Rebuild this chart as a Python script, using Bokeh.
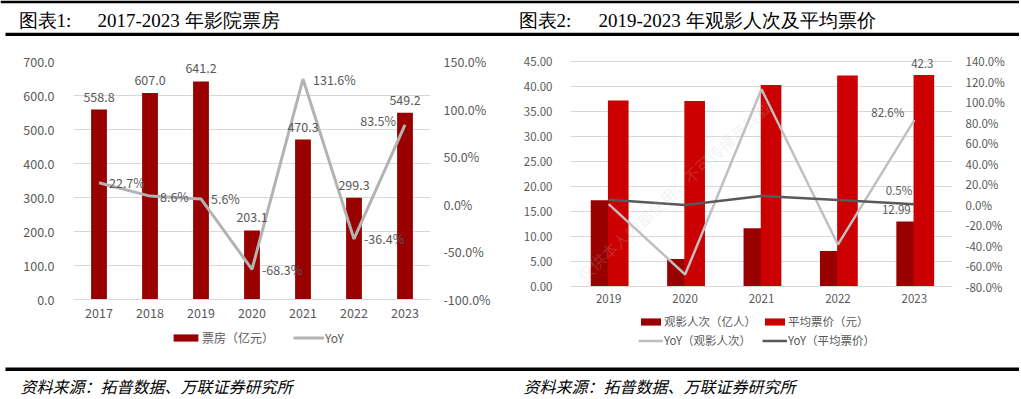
from bokeh.plotting import figure
from bokeh.models import (Range1d, LinearAxis, FactorRange, ColumnDataSource, LabelSet, Label,
                          Legend, LegendItem, PrintfTickFormatter, SingleIntervalTicker)
from bokeh.layouts import column, row
from bokeh.transform import dodge
from bokeh.core.properties import value
from bokeh.embed import file_html
from bokeh.resources import INLINE

# ---------------- data ----------------
years1 = ["2017", "2018", "2019", "2020", "2021", "2022", "2023"]
box_office = [558.8, 607.0, 641.2, 203.1, 470.3, 299.3, 549.2]      # 票房（亿元）
box_yoy = [22.7, 8.6, 5.6, -68.3, 131.6, -36.4, 83.5]                # YoY %

years2 = ["2019", "2020", "2021", "2022", "2023"]
admissions = [17.27, 5.48, 11.67, 7.12, 12.99]                       # 观影人次（亿人）
avg_price = [37.2, 37.1, 40.3, 42.2, 42.3]                           # 平均票价（元）
adm_yoy = [0.6, -68.3, 112.9, -39.0, 82.6]                           # YoY（观影人次）%
price_yoy = [4.8, -0.3, 8.6, 4.6, 0.5]                               # YoY（平均票价）%

title1_a, title1_b = "图表1:", "2017-2023 年影院票房"
title2_a, title2_b = "图表2:", "2019-2023 年观影人次及平均票价"
source_txt = "资料来源：拓普数据、万联证券研究所"
watermark = "仅供本人内部使用，不可传播与转载"

FONT = "Noto Sans CJK SC"
TXT = "#595959"
GRID = "#D9D9D9"
DARKRED = "#990000"
RED = "#CC0000"
LGRAY = "#B3B3B3"
LGRAY2 = "#BFBFBF"
DGRAY = "#595959"
W = 1019
WM_ANGLE = 0.7435


def no_align(p):
    if "frame_align" in p.properties():
        p.frame_align = False


def style_axis(ax, size, standoff, line=None):
    ax.axis_line_color = line
    ax.major_tick_line_color = None
    ax.minor_tick_line_color = None
    ax.major_tick_out = 0
    ax.major_tick_in = 0
    ax.major_label_text_font = FONT
    ax.major_label_text_font_size = size
    ax.major_label_text_color = TXT
    ax.major_label_standoff = standoff


def base_fig(width, height, xr, yr, ml, mr, mt, mb):
    p = figure(width=width, height=height, x_range=xr, y_range=yr,
               min_border_left=ml, min_border_right=mr, min_border_top=mt, min_border_bottom=mb,
               toolbar_location=None, output_backend="svg")
    p.outline_line_color = None
    p.xgrid.grid_line_color = None
    p.ygrid.grid_line_color = GRID
    p.ygrid.grid_line_width = 1
    no_align(p)
    return p


def strip(width, height):
    p = figure(width=width, height=height, x_range=Range1d(0, width), y_range=Range1d(height, 0),
               min_border=0, toolbar_location=None, output_backend="svg",
               x_axis_location=None, y_axis_location=None)
    p.grid.visible = False
    p.outline_line_color = None
    no_align(p)
    return p


# ---------------- chart 1 ----------------
src1 = ColumnDataSource(dict(
    year=years1, box=box_office, yoy=box_yoy,
    box_txt=["%.1f" % v for v in box_office],
    yoy_txt=["%.1f%%" % v for v in box_yoy],
))
src1_head = ColumnDataSource({k: v[:-1] for k, v in src1.data.items()})
src1_tail = ColumnDataSource({k: v[-1:] for k, v in src1.data.items()})

p1 = base_fig(513, 292, FactorRange(factors=years1, range_padding=0), Range1d(0, 700), 73, 83, 25, 29)
p1.extra_y_ranges = {"pct": Range1d(-100, 150)}
p1.yaxis.ticker = SingleIntervalTicker(interval=100)
p1.yaxis.formatter = PrintfTickFormatter(format="%.1f")
style_axis(p1.yaxis[0], "12.5px", 15)
style_axis(p1.xaxis[0], "12.5px", 8, line=GRID)
ax1r = LinearAxis(y_range_name="pct", ticker=SingleIntervalTicker(interval=50),
                  formatter=PrintfTickFormatter(format="%.1f%%"))
style_axis(ax1r, "12.5px", 9)
p1.add_layout(ax1r, "right")

p1.vbar(x="year", top="box", width=0.31, source=src1, fill_color=DARKRED, line_color=None)
p1.line(x="year", y="yoy", y_range_name="pct", source=src1, line_color=LGRAY, line_width=3)
p1.add_layout(LabelSet(x="year", y="box", text="box_txt", source=src1, text_align="center",
                       text_baseline="middle", y_offset=13, text_font=value(FONT),
                       text_font_size="12.5px", text_color=TXT))
yoy_kw = dict(y_range_name="pct", text_baseline="middle", text_font=value(FONT),
              text_font_size="12.5px", text_color=TXT)
p1.add_layout(LabelSet(x="year", y="yoy", text="yoy_txt", source=src1_head, text_align="left",
                       x_offset=10, **yoy_kw))
p1.add_layout(LabelSet(x="year", y="yoy", text="yoy_txt", source=src1_tail, text_align="right",
                       x_offset=-9, y_offset=4, **yoy_kw))

# legend strip under chart 1 (ref y 328..363); swatch renderers are hidden, legend only
lg1 = strip(513, 35)
k1a = lg1.vbar(x=box_office, top=box_office, width=1, fill_color=DARKRED, line_color=None, visible=False)
k1b = lg1.line(x=box_yoy, y=box_yoy, line_color=LGRAY, line_width=3, visible=False)
lg1.add_layout(Legend(items=[LegendItem(label="票房（亿元）", renderers=[k1a]),
                             LegendItem(label="YoY", renderers=[k1b])],
                      location=(170, 17), orientation="horizontal", glyph_width=31, glyph_height=9,
                      label_standoff=1, spacing=19, padding=0, margin=0, border_line_color=None,
                      background_fill_alpha=0, label_text_font=FONT, label_text_font_size="12px",
                      label_text_color=TXT, label_height=14, inactive_fill_alpha=0))

# ---------------- chart 2 ----------------
src2 = ColumnDataSource(dict(year=years2, adm=admissions, price=avg_price, ay=adm_yoy, py=price_yoy))
last = ColumnDataSource(dict(
    year=[years2[-1]], adm=[admissions[-1]], price=[avg_price[-1]], ay=[adm_yoy[-1]], py=[price_yoy[-1]],
    adm_t=["%.2f" % admissions[-1]], price_t=["%.1f" % avg_price[-1]],
    ay_t=["%.1f%%" % adm_yoy[-1]], py_t=["%.1f%%" % price_yoy[-1]],
))
# frame reaches 8px above the 45.00 grid line so the top data label is not clipped
p2 = base_fig(506, 276, FactorRange(factors=years2, range_padding=0), Range1d(0, 46.6), 57, 67, 17, 26)
p2.extra_y_ranges = {"pct": Range1d(-80, 147.82)}
p2.yaxis.ticker = SingleIntervalTicker(interval=5)
p2.yaxis.formatter = PrintfTickFormatter(format="%.2f")
style_axis(p2.yaxis[0], "11.5px", 14)
style_axis(p2.xaxis[0], "11.5px", 7, line=GRID)
ax2r = LinearAxis(y_range_name="pct", ticker=SingleIntervalTicker(interval=20),
                  formatter=PrintfTickFormatter(format="%.1f%%"))
style_axis(ax2r, "11.5px", 9)
p2.add_layout(ax2r, "right")

p2.vbar(x=dodge("year", -0.1, range=p2.x_range), top="adm", width=0.27, source=src2,
        fill_color=DARKRED, line_color=None)
p2.vbar(x=dodge("year", 0.125, range=p2.x_range), top="price", width=0.27, source=src2,
        fill_color=RED, line_color=None)
p2.line(x="year", y="ay", y_range_name="pct", source=src2, line_color=LGRAY2, line_width=2.5)
p2.line(x="year", y="py", y_range_name="pct", source=src2, line_color=DGRAY, line_width=2.5)

lab_kw = dict(source=last, text_font=value(FONT), text_font_size="11.5px", text_color=TXT,
              text_baseline="middle")
p2.add_layout(LabelSet(x="year", y="price", text="price_t", text_align="center", x_offset=8, y_offset=12, **lab_kw))
p2.add_layout(LabelSet(x="year", y="adm", text="adm_t", text_align="center", x_offset=-18, y_offset=12, **lab_kw))
p2.add_layout(LabelSet(x="year", y="ay", text="ay_t", y_range_name="pct", text_align="right",
                       x_offset=-10, y_offset=8, **lab_kw))
p2.add_layout(LabelSet(x="year", y="py", text="py_t", y_range_name="pct", text_align="right",
                       x_offset=-2, y_offset=14, **lab_kw))
# faint diagonal watermark, kept whole inside the plot area
p2.add_layout(Label(x=9, y=9, x_units="screen", y_units="screen", text=watermark, angle=WM_ANGLE,
                    text_align="left", text_baseline="middle", text_font=FONT,
                    text_font_size="16px", text_color="#BFBFBF", text_alpha=0.22))

# legend strip under chart 2 (ref y 312..363)
lg2 = strip(506, 51)
k2a = lg2.vbar(x=admissions, top=admissions, width=1, fill_color=DARKRED, line_color=None, visible=False)
k2b = lg2.vbar(x=avg_price, top=avg_price, width=1, fill_color=RED, line_color=None, visible=False)
k2c = lg2.line(x=adm_yoy, y=adm_yoy, line_color=LGRAY2, line_width=2.5, visible=False)
k2d = lg2.line(x=price_yoy, y=price_yoy, line_color=DGRAY, line_width=2.5, visible=False)
leg_kw = dict(orientation="horizontal", glyph_width=25, glyph_height=9, label_standoff=1, spacing=6,
              padding=0, margin=0, border_line_color=None, background_fill_alpha=0,
              label_text_font=FONT, label_text_font_size="11.5px", label_text_color=TXT,
              label_height=14, label_width=92, inactive_fill_alpha=0)
lg2.add_layout(Legend(items=[LegendItem(label="观影人次（亿人）", renderers=[k2a]),
                             LegendItem(label="平均票价（元）", renderers=[k2b])],
                      location=(125, 34), **leg_kw))
lg2.add_layout(Legend(items=[LegendItem(label="YoY（观影人次）", renderers=[k2c]),
                             LegendItem(label="YoY（平均票价）", renderers=[k2d])],
                      location=(125, 15), **leg_kw))

# ---------------- header / footer strips ----------------
hdr = strip(W, 36)
hdr.segment(x0=[0, 5], y0=[1.3, 34], x1=[W, W], y1=[1.3, 34], line_color="black", line_width=[2.7, 3.3])
hdr.text(x=[18, 97, 518, 598], y=[20, 20, 20, 20], text=[title1_a, title1_b, title2_a, title2_b],
         text_font=value("Liberation Serif"), text_font_size="19px", text_color="black",
         text_baseline="middle", text_align="left")

ftr = strip(W, 34)
ftr.segment(x0=[5], y0=[5.7], x1=[W], y1=[5.7], line_color="black", line_width=3.5)
ftr.text(x=[20, 523], y=[22, 22], text=[source_txt, source_txt], text_font=value(FONT),
         text_font_size="16px", text_font_style="italic", text_color="black",
         text_baseline="middle", text_align="left")

layout = column(hdr, row(column(p1, lg1), column(p2, lg2)), ftr)
open("out.html", "w").write(file_html(layout, INLINE))
